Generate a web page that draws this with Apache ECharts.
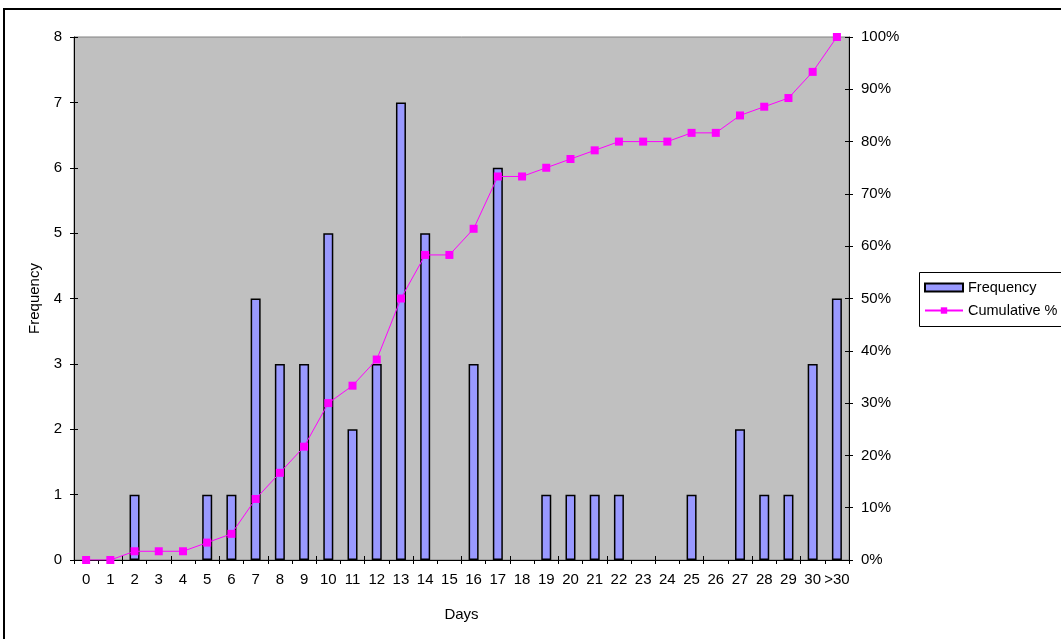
<!DOCTYPE html>
<html>
<head>
<meta charset="utf-8">
<script src="https://cdn.jsdelivr.net/npm/echarts@6/dist/echarts.min.js"></script>
<style>
  html, body { margin: 0; padding: 0; background: #fff; }
  #chart { width: 1061px; height: 639px; }
</style>
</head>
<body>
<div id="chart"></div>
<script>
// Histogram of days with cumulative percentage (Pareto style)
const days = ['0','1','2','3','4','5','6','7','8','9','10','11','12','13','14','15',
              '16','17','18','19','20','21','22','23','24','25','26','27','28','29','30','>30'];
const frequency = [0,0,1,0,0,1,1,4,3,3,5,2,3,7,5,0,3,6,0,1,1,1,1,0,0,1,0,2,1,1,3,4];
const cumulativePct = [0,0,1.67,1.67,1.67,3.33,5,11.67,16.67,21.67,30,33.33,38.33,50,58.33,58.33,
                       63.33,73.33,73.33,75,76.67,78.33,80,80,80,81.67,81.67,85,86.67,88.33,93.33,100];

const FONT = 'Liberation Sans, Arial, sans-serif';
const txt = { color: '#000', fontFamily: FONT, fontSize: 15 };

// empty bins get no outline, so nothing is drawn for them
const barData = frequency.map(v => v === 0 ? { value: v, itemStyle: { borderWidth: 0 } } : v);

const chart = echarts.init(document.getElementById('chart'), null, { renderer: 'canvas' });

chart.setOption({
  animation: false,
  backgroundColor: '#fff',
  grid: {
    left: 74, top: 37, right: 212, bottom: 79,
    show: true, backgroundColor: '#C0C0C0', borderColor: '#808080', borderWidth: 1
  },
  graphic: [
    { type: 'rect', shape: { x: 4, y: 9, width: 1100, height: 700 },
      style: { fill: 'none', stroke: '#000', lineWidth: 2 }, z: 100 },
    { type: 'rect', shape: { x: 919.5, y: 272.5, width: 200, height: 54 },
      style: { fill: 'none', stroke: '#000', lineWidth: 1 }, z: 100 }
  ],
  legend: {
    orient: 'vertical', left: 924, top: 280, padding: 0,
    itemWidth: 38, itemHeight: 8, itemGap: 8,
    textStyle: { ...txt, fontSize: 14.5 },
    data: [
      { name: 'Frequency', icon: 'rect' },
      { name: 'Cumulative %' }
    ]
  },
  xAxis: [
    {
      type: 'category', data: days, boundaryGap: true,
      name: 'Days', nameLocation: 'middle', nameGap: 47, nameTextStyle: txt,
      axisLine: { lineStyle: { color: '#000', width: 1 } },
      axisTick: { show: true, length: 4, alignWithLabel: false, lineStyle: { color: '#000' } },
      axisLabel: { ...txt, interval: 0, margin: 12 },
      splitLine: { show: false }
    },
    {
      // inward half of the crossing tick marks
      type: 'category', data: days, position: 'bottom', boundaryGap: true,
      axisLine: { show: false },
      axisTick: { show: true, inside: true, length: 4, lineStyle: { color: '#000' } },
      axisLabel: { show: false }, splitLine: { show: false }
    }
  ],
  yAxis: [
    {
      type: 'value', min: 0, max: 8, interval: 1,
      name: 'Frequency', nameLocation: 'middle', nameGap: 27, nameRotate: 90, nameTextStyle: txt,
      axisLine: { show: true, lineStyle: { color: '#000', width: 1 } },
      axisTick: { show: true, length: 4, lineStyle: { color: '#000' } },
      axisLabel: { ...txt, margin: 12 },
      splitLine: { show: false }
    },
    {
      type: 'value', min: 0, max: 100, interval: 10, position: 'right',
      axisLine: { show: true, lineStyle: { color: '#000', width: 1 } },
      axisTick: { show: true, length: 4, lineStyle: { color: '#000' } },
      axisLabel: { ...txt, margin: 12, formatter: '{value}%' },
      splitLine: { show: false }
    },
    {
      // inward halves of the crossing ticks on both value axes
      type: 'value', min: 0, max: 8, interval: 1, position: 'left',
      axisLine: { show: false },
      axisTick: { show: true, inside: true, length: 4, lineStyle: { color: '#000' } },
      axisLabel: { show: false }, splitLine: { show: false }
    },
    {
      type: 'value', min: 0, max: 100, interval: 10, position: 'right',
      axisLine: { show: false },
      axisTick: { show: true, inside: true, length: 4, lineStyle: { color: '#000' } },
      axisLabel: { show: false }, splitLine: { show: false }
    }
  ],
  series: [
    {
      name: 'Frequency', type: 'bar', data: barData,
      xAxisIndex: 0, yAxisIndex: 0, barWidth: 10,
      itemStyle: { color: '#9999FF', borderColor: '#000', borderWidth: 1.5 }
    },
    {
      name: 'Cumulative %', type: 'line', data: cumulativePct,
      xAxisIndex: 0, yAxisIndex: 1,
      symbol: 'rect', symbolSize: 8, showSymbol: true,
      lineStyle: { color: '#FF00FF', width: 1 },
      itemStyle: { color: '#FF00FF' },
      z: 5
    }
  ]
});
</script>
</body>
</html>
